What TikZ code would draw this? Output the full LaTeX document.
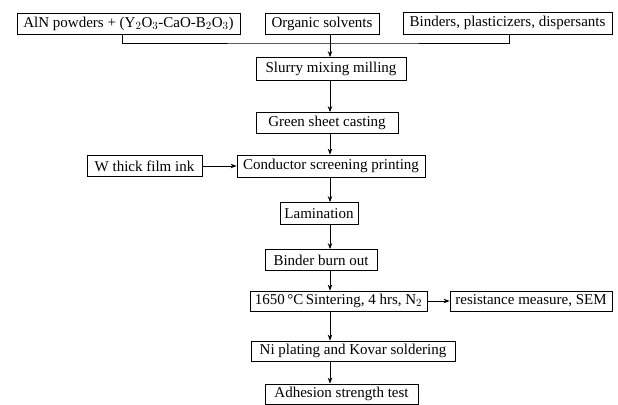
\documentclass[tikz,border=0pt]{standalone}
\usepackage{fontspec}
\setmainfont{Liberation Serif}
\usetikzlibrary{arrows.meta}
\begin{document}
\begin{tikzpicture}[x=1pt,y=-1pt,
  box/.style={draw, line width=0.8pt, inner sep=0pt, font=\fontsize{15}{17}\selectfont, anchor=center},
  arr/.style={line width=0.8pt, -{Stealth[length=6pt,width=4.5pt]}},
  ln/.style={line width=0.8pt}]
\useasboundingbox (0,0) rectangle (618,404);
\node[box, minimum width=223pt, minimum height=21pt] (aln) at (128.5,24) {AlN powders + (Y$_2$O$_3$-CaO-B$_2$O$_3$)};
\node[box, minimum width=114pt, minimum height=21pt] (org) at (322,24) {Organic solvents};
\node[box, minimum width=209pt, minimum height=22pt] (bind) at (507.5,23) {Binders, plasticizers, dispersants};
\node[box, minimum width=150pt, minimum height=23pt] (slurry) at (331,69) {Slurry mixing milling};
\node[box, minimum width=142pt, minimum height=21pt] (green) at (327,123) {Green sheet casting};
\node[box, minimum width=115pt, minimum height=21pt] (wink) at (144.5,166) {W thick film ink};
\node[box, minimum width=188pt, minimum height=22pt] (cond) at (331,166) {Conductor screening printing};
\node[box, minimum width=78pt, minimum height=22pt] (lam) at (319,213.5) {Lamination};
\node[box, minimum width=112pt, minimum height=21pt] (burn) at (321,260) {Binder burn out};
\node[box, minimum width=177pt, minimum height=20pt] (sint) at (338.5,301) {1650\,\textdegree C\,Sintering, 4 hrs, N$_2$};
\node[box, minimum width=162pt, minimum height=20pt] (res) at (531,301) {resistance measure, SEM};
\node[box, minimum width=204pt, minimum height=20pt] (ni) at (353,351) {Ni plating and Kovar soldering};
\node[box, minimum width=153pt, minimum height=20pt] (adh) at (341.5,394) {Adhesion strength test};
\coordinate (ax) at (330,0);
\coordinate (b1) at (122,0);
\coordinate (b2) at (509,0);
\coordinate (bus) at (330,43);
\draw[ln] (aln.south -| b1) |- (bus) -| (bind.south -| b2);
\draw[arr] (org.south -| ax) -- (slurry.north -| ax);
\draw[arr] (slurry.south -| ax) -- (green.north -| ax);
\draw[arr] (green.south -| ax) -- (cond.north -| ax);
\draw[arr] (wink.east) -- (cond.west |- wink.east);
\draw[arr] (cond.south -| ax) -- (lam.north -| ax);
\draw[arr] (lam.south -| ax) -- (burn.north -| ax);
\draw[arr] (burn.south -| ax) -- (sint.north -| ax);
\draw[arr] (sint.east) -- (res.west);
\draw[arr] (sint.south -| ax) -- (ni.north -| ax);
\draw[arr] (ni.south -| ax) -- (adh.north -| ax);
\end{tikzpicture}
\end{document}
